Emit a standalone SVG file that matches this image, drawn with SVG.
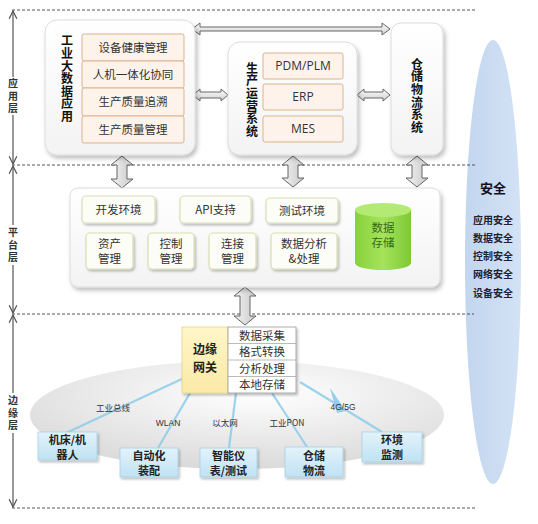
<svg xmlns="http://www.w3.org/2000/svg" width="538" height="524" viewBox="0 0 538 524">
<defs>
<style>
.t{font-family:"Noto Sans CJK SC","Liberation Sans",sans-serif;fill:#222}
.lbl{font-size:10px;font-weight:bold;fill:#333;writing-mode:vertical-rl;letter-spacing:2.5px}
.vt{font-size:12px;font-weight:bold;fill:#111;writing-mode:vertical-rl;letter-spacing:0.6px}
.it{font-size:11.5px;fill:#333}
.dash{stroke:#444;stroke-width:0.9;stroke-dasharray:3,2;fill:none}
.vline{stroke:#555;stroke-width:1.2;fill:none}
.card{fill:url(#gCard);stroke:#dcdcdc;stroke-width:1;filter:url(#sh)}
.sub{fill:#fdf3ea;stroke:#ddb38e;stroke-width:1}
.pit{fill:#fdfdf7;stroke:#d8dfb4;stroke-width:1.2;filter:url(#sh2)}
.arr{fill:url(#gArr);stroke:#666;stroke-width:1}
.dev{fill:url(#gDev);stroke:#a9cfe3;stroke-width:0.8;filter:url(#sh2)}
.devt{font-size:11px;font-weight:bold;fill:#222}
.conn{stroke:#8ccbea;stroke-width:2.2;fill:none;opacity:0.85}
.ct{font-size:8.5px;fill:#333}
.sec{font-size:10px;font-weight:bold;fill:#223}
</style>
<linearGradient id="gCard" x1="0" y1="0" x2="0" y2="1"><stop offset="0" stop-color="#ffffff"/><stop offset="1" stop-color="#f3f3f3"/></linearGradient>
<linearGradient id="gArr" x1="0" y1="0" x2="1" y2="0"><stop offset="0" stop-color="#f4f4f4"/><stop offset="1" stop-color="#c8c8c8"/></linearGradient>
<linearGradient id="gArrH" x1="0" y1="0" x2="0" y2="1"><stop offset="0" stop-color="#ffffff"/><stop offset="1" stop-color="#cfcfcf"/></linearGradient>
<linearGradient id="gDev" x1="0" y1="0" x2="0" y2="1"><stop offset="0" stop-color="#e3f3fb"/><stop offset="1" stop-color="#bfe2f3"/></linearGradient>
<linearGradient id="gCyl" x1="0" y1="0" x2="1" y2="0"><stop offset="0" stop-color="#86d23c"/><stop offset="0.5" stop-color="#a6e35a"/><stop offset="1" stop-color="#7cc936"/></linearGradient>
<radialGradient id="gEll" cx="0.55" cy="0.3" r="0.7"><stop offset="0" stop-color="#ffffff"/><stop offset="1" stop-color="#dadada"/></radialGradient>
<linearGradient id="gSec" x1="0" y1="0" x2="1" y2="0"><stop offset="0" stop-color="#c2d6ef"/><stop offset="1" stop-color="#d3e2f5"/></linearGradient>
<linearGradient id="gGw" x1="0" y1="0" x2="0" y2="1"><stop offset="0" stop-color="#fff6c8"/><stop offset="1" stop-color="#fbe9a6"/></linearGradient>
<filter id="sh" x="-10%" y="-10%" width="125%" height="125%"><feDropShadow dx="2" dy="3" stdDeviation="2" flood-color="#000" flood-opacity="0.25"/></filter>
<filter id="sh2" x="-10%" y="-10%" width="130%" height="130%"><feDropShadow dx="1.5" dy="2" stdDeviation="1.2" flood-color="#000" flood-opacity="0.25"/></filter>
<marker id="v" viewBox="0 0 10 10" refX="9" refY="5" markerWidth="8" markerHeight="8" orient="auto-start-reverse"><path d="M1,1 L9,5 L1,9" fill="none" stroke="#555" stroke-width="1.3"/></marker>
</defs>
<rect width="538" height="524" fill="#ffffff"/>

<g id="security">
<ellipse cx="493" cy="262" rx="28" ry="222" fill="url(#gSec)"/>
<text class="t" x="493" y="193" text-anchor="middle" style="font-size:13px;font-weight:bold;fill:#112">安全</text>
<text class="t sec" x="493" y="224" text-anchor="middle">应用安全</text>
<text class="t sec" x="493" y="242" text-anchor="middle">数据安全</text>
<text class="t sec" x="493" y="260" text-anchor="middle">控制安全</text>
<text class="t sec" x="493" y="278" text-anchor="middle">网络安全</text>
<text class="t sec" x="493" y="297" text-anchor="middle">设备安全</text>
</g>

<g id="layers">
<line class="dash" x1="12" y1="10" x2="476" y2="10"/>
<line class="dash" x1="12" y1="165" x2="476" y2="165"/>
<line class="dash" x1="12" y1="314" x2="474" y2="314"/>
<line class="dash" x1="12" y1="508" x2="477" y2="508"/>
<line class="vline" x1="13" y1="11" x2="13" y2="164" marker-start="url(#v)" marker-end="url(#v)"/>
<line class="vline" x1="13" y1="166" x2="13" y2="313" marker-start="url(#v)" marker-end="url(#v)"/>
<line class="vline" x1="13" y1="315" x2="13" y2="507" marker-start="url(#v)" marker-end="url(#v)"/>
<rect x="6" y="77" width="14" height="38" fill="#fff"/>
<rect x="6" y="225" width="14" height="40" fill="#fff"/>
<rect x="6" y="393" width="14" height="40" fill="#fff"/>
<text class="t lbl" x="13" y="97" text-anchor="middle">应用层</text>
<text class="t lbl" x="13" y="246" text-anchor="middle">平台层</text>
<text class="t lbl" x="13" y="414" text-anchor="middle">边缘层</text>
</g>

<g id="connectors">
<path class="arr" style="fill:url(#gArrH)" d="M192,29 L200,23 L200,27 L382,27 L382,23 L390,29 L382,35 L382,31 L200,31 L200,35 Z"/>
<path class="arr" style="fill:url(#gArrH)" d="M193,95 L200,89 L200,92 L221,92 L221,89 L228,95 L221,101 L221,98 L200,98 L200,101 Z"/>
<path class="arr" style="fill:url(#gArrH)" d="M357,95 L364,89 L364,92 L383,92 L383,89 L390,95 L383,101 L383,98 L364,98 L364,101 Z"/>
<path class="arr" d="M122,156 L133,165 L127,165 L127,179 L133,179 L122,188 L111,179 L117,179 L117,165 L111,165 Z"/>
<path class="arr" d="M293,156 L304,165 L298,165 L298,178 L304,178 L293,187 L282,178 L288,178 L288,165 L282,165 Z"/>
<path class="arr" d="M417,156 L428,165 L422,165 L422,178 L428,178 L417,187 L406,178 L412,178 L412,165 L406,165 Z"/>
<path class="arr" d="M245,287 L256,296 L250,296 L250,316 L256,316 L245,325 L234,316 L240,316 L240,296 L234,296 Z"/>
</g>

<g id="app-bigdata">
<rect class="card" x="45" y="20" width="150" height="135" rx="12"/>
<text class="t vt" x="67" y="79" text-anchor="middle">工业大数据应用</text>
<rect class="sub" x="82" y="34" width="102" height="27" rx="2"/>
<rect class="sub" x="82" y="61" width="102" height="27" rx="2"/>
<rect class="sub" x="82" y="88" width="102" height="28" rx="2"/>
<rect class="sub" x="82" y="116" width="102" height="27" rx="2"/>
<text class="t it" x="133" y="52" text-anchor="middle">设备健康管理</text>
<text class="t it" x="133" y="79" text-anchor="middle">人机一体化协同</text>
<text class="t it" x="133" y="106" text-anchor="middle">生产质量追溯</text>
<text class="t it" x="133" y="134" text-anchor="middle">生产质量管理</text>
</g>

<g id="app-ops">
<rect class="card" x="228" y="42" width="129" height="113" rx="12"/>
<text class="t vt" x="252" y="100" text-anchor="middle">生产运营系统</text>
<rect class="sub" x="263" y="53" width="80" height="26" rx="2"/>
<rect class="sub" x="263" y="84" width="80" height="26" rx="2"/>
<rect class="sub" x="263" y="116" width="80" height="26" rx="2"/>
<text class="t" x="303" y="70" text-anchor="middle" style="font-family:'Open Sans','Liberation Sans',sans-serif;font-size:12px;fill:#333">PDM/PLM</text>
<text class="t" x="303" y="101" text-anchor="middle" style="font-family:'Open Sans','Liberation Sans',sans-serif;font-size:12px;fill:#333">ERP</text>
<text class="t" x="303" y="133" text-anchor="middle" style="font-family:'Open Sans','Liberation Sans',sans-serif;font-size:12px;fill:#333">MES</text>
</g>

<g id="app-wms">
<rect class="card" x="391" y="23" width="52" height="132" rx="10"/>
<text class="t vt" x="417" y="96" text-anchor="middle">仓储物流系统</text>
</g>

<g id="platform">
<rect class="card" x="70" y="188" width="370" height="99" rx="8"/>
<rect class="pit" x="82" y="196" width="73" height="27" rx="4"/>
<text class="t it" x="118.5" y="214" text-anchor="middle">开发环境</text>
<rect class="pit" x="180" y="196" width="71" height="27" rx="4"/>
<text class="t it" x="215.5" y="214" text-anchor="middle">API支持</text>
<rect class="pit" x="266" y="198" width="72" height="25" rx="4"/>
<text class="t it" x="302" y="215" text-anchor="middle">测试环境</text>
<rect class="pit" x="86" y="233" width="47" height="36" rx="4"/>
<text class="t it" x="109.5" text-anchor="middle"><tspan x="109.5" y="248">资产</tspan><tspan x="109.5" y="263">管理</tspan></text>
<rect class="pit" x="148" y="233" width="46" height="36" rx="4"/>
<text class="t it" text-anchor="middle"><tspan x="171" y="248">控制</tspan><tspan x="171" y="263">管理</tspan></text>
<rect class="pit" x="209" y="233" width="47" height="36" rx="4"/>
<text class="t it" text-anchor="middle"><tspan x="232.5" y="248">连接</tspan><tspan x="232.5" y="263">管理</tspan></text>
<rect class="pit" x="271" y="233" width="66" height="36" rx="4"/>
<text class="t it" text-anchor="middle"><tspan x="304" y="248">数据分析</tspan><tspan x="304" y="263">&amp;处理</tspan></text>
</g>

<g id="storage">
<path d="M355,210 L355,263 A28,7 0 0 0 411,263 L411,210 Z" fill="url(#gCyl)"/>
<ellipse cx="383" cy="210" rx="28" ry="7" fill="#b3ea74"/>
<text class="t" text-anchor="middle" style="font-size:11.5px;fill:#2f6b1c"><tspan x="383" y="232">数据</tspan><tspan x="383" y="247">存储</tspan></text>
</g>

<g id="edge-field">
<ellipse cx="237" cy="415" rx="207" ry="54" fill="url(#gEll)"/>
</g>

<g id="edge-links">
<line class="conn" x1="184" y1="378" x2="66" y2="433"/>
<line class="conn" x1="190" y1="393" x2="158" y2="448"/>
<line class="conn" x1="236" y1="393" x2="229" y2="448"/>
<line class="conn" x1="272" y1="393" x2="307" y2="447"/>
<line class="conn" x1="300" y1="382" x2="382" y2="432"/>
<path d="M330,388 L346,411 L337,413 Z" fill="#8ccbea" opacity="0.9"/>
<text class="t ct" x="113" y="411" text-anchor="middle">工业总线</text>
<text class="t ct" x="168" y="426" text-anchor="middle" style="font-family:'Liberation Sans',sans-serif">WLAN</text>
<text class="t ct" x="225" y="426" text-anchor="middle">以太网</text>
<text class="t ct" x="287" y="426" text-anchor="middle">工业PON</text>
<text class="t ct" x="343" y="410" text-anchor="middle" style="font-family:'Liberation Sans',sans-serif">4G/5G</text>
</g>

<g id="gateway">
<rect x="182" y="327" width="46" height="66" fill="url(#gGw)" stroke="#e6d48a" stroke-width="0.8" filter="url(#sh2)"/>
<text class="t" text-anchor="middle" style="font-size:12px;font-weight:bold;fill:#222"><tspan x="205" y="354">边缘</tspan><tspan x="205" y="372">网关</tspan></text>
<g filter="url(#sh2)">
<rect x="228" y="327" width="68" height="66" fill="#fff" stroke="#999" stroke-width="0.8"/>
</g>
<line x1="228" y1="343.5" x2="296" y2="343.5" stroke="#aaa" stroke-width="0.8"/>
<line x1="228" y1="360" x2="296" y2="360" stroke="#aaa" stroke-width="0.8"/>
<line x1="228" y1="376.5" x2="296" y2="376.5" stroke="#aaa" stroke-width="0.8"/>
<text class="t it" x="262" y="339.5" text-anchor="middle">数据采集</text>
<text class="t it" x="262" y="356" text-anchor="middle">格式转换</text>
<text class="t it" x="262" y="372.5" text-anchor="middle">分析处理</text>
<text class="t it" x="262" y="389" text-anchor="middle">本地存储</text>
</g>

<g id="dev-robot"><rect class="dev" x="38" y="432" width="59" height="28"/><text class="t devt" text-anchor="middle"><tspan x="67.5" y="443.5">机床/机</tspan><tspan x="67.5" y="458.5">器人</tspan></text></g>
<g id="dev-assembly"><rect class="dev" x="120" y="448" width="58" height="29"/><text class="t devt" text-anchor="middle"><tspan x="149" y="459.5">自动化</tspan><tspan x="149" y="474.5">装配</tspan></text></g>
<g id="dev-meter"><rect class="dev" x="200" y="448" width="57" height="29"/><text class="t devt" text-anchor="middle"><tspan x="228.5" y="459.5">智能仪</tspan><tspan x="228.5" y="474.5">表/测试</tspan></text></g>
<g id="dev-logistics"><rect class="dev" x="285" y="447" width="58" height="30"/><text class="t devt" text-anchor="middle"><tspan x="314" y="459.5">仓储</tspan><tspan x="314" y="474.5">物流</tspan></text></g>
<g id="dev-env"><rect class="dev" x="362" y="432" width="60" height="30"/><text class="t devt" text-anchor="middle"><tspan x="392" y="444">环境</tspan><tspan x="392" y="459">监测</tspan></text></g>
</svg>
